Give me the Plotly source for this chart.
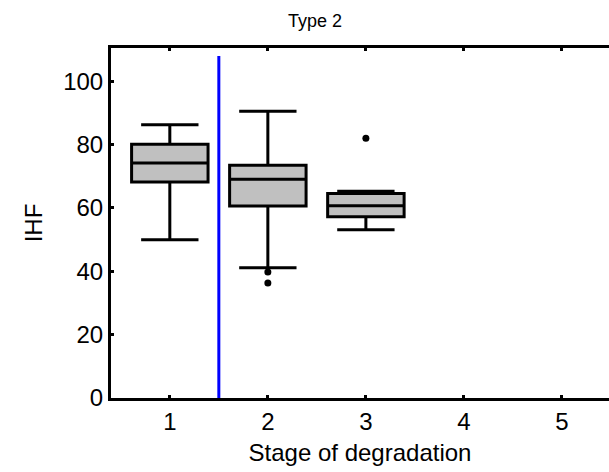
import plotly.graph_objects as go

# Box statistics per degradation stage
stages = [1, 2, 3]
q1 = [68.2, 60.6, 57.2]
median = [74.2, 69.1, 60.7]
q3 = [80.1, 73.5, 64.6]
lower_fence = [50.0, 41.1, 53.1]
upper_fence = [86.3, 90.5, 65.3]

# Outliers
outlier_x = [2, 2, 3]
outlier_y = [39.8, 36.3, 82.0]

# Blue divider line
divider_x = [1.5, 1.5]
divider_y = [0, 108]

x_ticks = [1, 2, 3, 4, 5]
y_ticks = [0, 20, 40, 60, 80, 100]

FONT = "Liberation Sans, Arial, Helvetica, sans-serif"

fig = go.Figure()

fig.add_trace(go.Box(
    x=stages,
    q1=q1, median=median, q3=q3,
    lowerfence=lower_fence, upperfence=upper_fence,
    width=0.78,
    whiskerwidth=0.75,
    fillcolor="#c0c0c0",
    line=dict(color="black", width=3),
    boxpoints=False,
    showlegend=False,
    hoverinfo="skip",
))

fig.add_trace(go.Scatter(
    x=outlier_x, y=outlier_y,
    mode="markers",
    marker=dict(color="black", size=7),
    showlegend=False,
    hoverinfo="skip",
))

fig.add_trace(go.Scatter(
    x=divider_x, y=divider_y,
    mode="lines",
    line=dict(color="#0000ff", width=3),
    showlegend=False,
    hoverinfo="skip",
))

fig.update_layout(
    width=609, height=472,
    margin=dict(l=111, r=0, t=48, b=74),
    paper_bgcolor="white",
    plot_bgcolor="white",
    font=dict(family=FONT, color="black"),
    title=dict(text="Type 2", x=315 / 609, xanchor="center", y=1 - 21 / 472, yanchor="middle",
               font=dict(size=18, family=FONT, color="black")),
    xaxis=dict(
        range=[0.4, 5.48],
        tickvals=x_ticks,
        ticktext=[str(v) for v in x_ticks],
        showline=True, linecolor="black", linewidth=3,
        mirror="ticks",
        ticks="inside", ticklen=3, tickwidth=3, tickcolor="black",
        showgrid=False, zeroline=False,
        tickfont=dict(size=24, family=FONT),
        title=dict(text="Stage of degradation", font=dict(size=24, family=FONT), standoff=11),
    ),
    yaxis=dict(
        range=[0, 110.5],
        tickvals=y_ticks,
        showline=True, linecolor="black", linewidth=3,
        ticks="inside", ticklen=3, tickwidth=3, tickcolor="black",
        showgrid=False, zeroline=False,
        tickfont=dict(size=24, family=FONT),
        title=dict(text="IHF", font=dict(size=24, family=FONT), standoff=14),
    ),
)

fig.write_html(
    "out.html",
    config={"displayModeBar": False},
    post_script="document.body.style.margin='0';document.body.style.overflow='hidden';",
)
